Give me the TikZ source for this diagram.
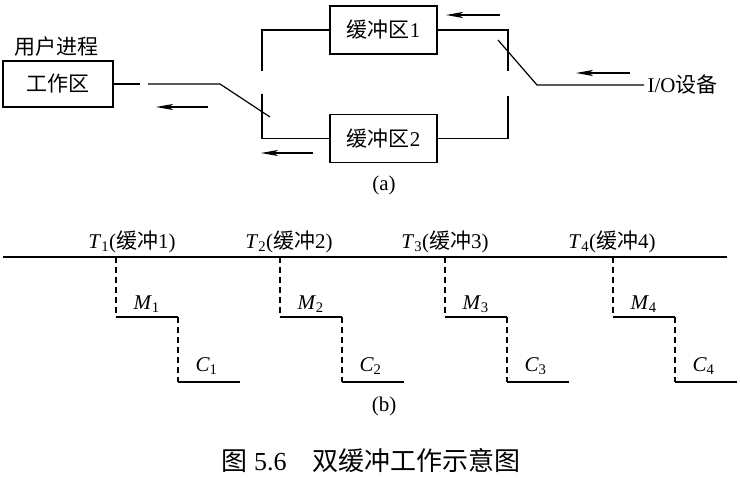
\documentclass[tikz,border=0pt]{standalone}
\usepackage{fontspec}
\setmainfont{Liberation Serif}
\newfontfamily\cjk{Noto Sans CJK SC}
\usetikzlibrary{arrows.meta,positioning}
\tikzset{
  box/.style={draw,line width=1.8pt,inner sep=0pt,minimum width=107pt,minimum height=48pt,font=\lbl},
  wire/.style={line width=1.2pt},
  flow/.style={line width=1.3pt,-{Stealth[length=17pt,width=6pt,inset=4pt]}},
  tick/.style={line width=1.2pt,dash pattern=on 6pt off 4pt},
}
\newcommand{\lbl}{\fontsize{21}{25}\selectfont}
\newcommand{\figcap}{\fontsize{26}{31}\selectfont}

\begin{document}
\begin{tikzpicture}[x=1pt,y=-1pt]
  \useasboundingbox (0,0) rectangle (740,478);

  % (a) double buffer
  \node[box,minimum width=110pt,minimum height=46pt] (work) at (58,84) {\cjk 工作区};
  \node[font=\lbl,anchor=south] (user) at (57,60) {\cjk 用户进程};
  \node[box] (buf1) at (383.5,30) {{\cjk 缓冲区}1};
  \node[box] (buf2) at (383.5,138.5) {{\cjk 缓冲区}2};
  \node[font=\lbl,anchor=west] (io) at (644,85) {I/O{\cjk 设备}};

  % left switch
  \coordinate (l1) at (262,71);
  \coordinate (l2) at (262,94);
  \draw[wire] (buf1.west) -| (l1);
  \draw[wire] (buf2.west) -| (l2);
  \coordinate (w1) at (140,84);
  \coordinate (w2) at (148,84);
  \coordinate (wk) at (220,84);
  \coordinate (wt) at (270,117);
  \draw[wire] (work.east) -- (w1);
  \draw[wire] (w2) -- (wk) -- (wt);

  % right switch
  \coordinate (r1) at (508,71);
  \coordinate (r2) at (508,96);
  \draw[wire] (buf1.east) -| (r1);
  \draw[wire] (buf2.east) -| (r2);
  \coordinate (ik) at (537,85);
  \coordinate (it) at (498,40);
  \draw[wire] (io.west) -- (ik) -- (it);

  % data flow
  \coordinate (f1a) at (208,107); \coordinate (f1b) at (156,107);
  \coordinate (f2a) at (313,153); \coordinate (f2b) at (261,153);
  \coordinate (f3a) at (500,15);  \coordinate (f3b) at (446,15);
  \coordinate (f4a) at (630,73);  \coordinate (f4b) at (576,73);
  \draw[flow] (f1a) -- (f1b);
  \draw[flow] (f2a) -- (f2b);
  \draw[flow] (f3a) -- (f3b);
  \draw[flow] (f4a) -- (f4b);

  \node[font=\lbl] (capa) at (384,185) {(a)};

  % (b) timing
  \coordinate (t0) at (3,257);
  \coordinate (tend) at (727,257);
  \draw[wire] (t0) -- (tend);
  \foreach \i/\x/\lx in {1/116/132, 2/280/289, 3/445/445, 4/613/612} {
    \node[font=\lbl] (t\i) at (\lx,242) {\textit{T}\textsubscript{\i}({\cjk 缓冲}\i)};
    \draw[tick] (\x,257) -- (\x,317);
    \draw[wire] (\x,317) -- (\x+62,317);
    \draw[tick] (\x+62,317) -- (\x+62,382);
    \draw[wire] (\x+62,382) -- (\x+124,382);
    \node[font=\lbl,anchor=west] (m\i) at (\x+14,304) {\textit{M}\textsubscript{\i}};
    \node[font=\lbl,anchor=west] (c\i) at (\x+76,366) {\textit{C}\textsubscript{\i}};
  }

  \node[font=\lbl] (capb) at (384,406) {(b)};

  \node[font=\figcap] (fig) at (371,461) {{\cjk 图} 5.6\quad{\cjk 双缓冲工作示意图}};
\end{tikzpicture}
\end{document}
